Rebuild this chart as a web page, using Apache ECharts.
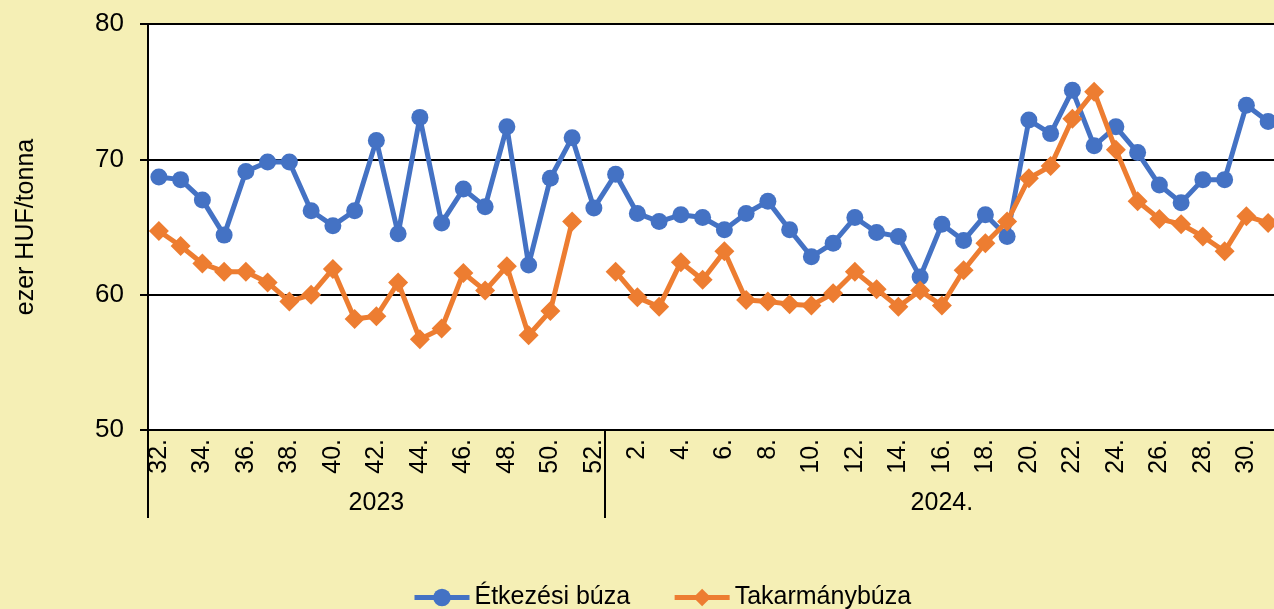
<!DOCTYPE html>
<html>
<head>
<meta charset="utf-8">
<script src="https://cdn.jsdelivr.net/npm/echarts@6/dist/echarts.min.js"></script>
<style>html,body{margin:0;padding:0;background:#F5EFB5;}#c{width:1274px;height:609px;}</style>
</head>
<body>
<div id="c"></div>
<script>
const weeks = ['32.','33.','34.','35.','36.','37.','38.','39.','40.','41.','42.','43.','44.','45.','46.','47.','48.','49.','50.','51.','52.',
  '1.','2.','3.','4.','5.','6.','7.','8.','9.','10.','11.','12.','13.','14.','15.','16.','17.','18.','19.','20.','21.','22.','23.','24.','25.','26.','27.','28.','29.','30.','31.'];
const years = ['2023', '2024.'];
const yearStartIndex = [0, 21];
const yearLabelIndex = [10, 36];
const etkezesi = [68.7,68.5,67.0,64.4,69.1,69.8,69.8,66.2,65.1,66.2,71.4,64.5,73.1,65.3,67.8,66.5,72.4,62.2,68.6,71.6,66.4,
  68.9,66.0,65.4,65.9,65.7,64.8,66.0,66.9,64.8,62.8,63.8,65.7,64.6,64.3,61.3,65.2,64.0,65.9,64.3,72.9,71.9,75.1,71.0,72.4,70.5,68.1,66.8,68.5,68.5,74.0,72.8];
const takarmany = [64.7,63.6,62.3,61.7,61.7,60.9,59.5,60.0,61.9,58.2,58.4,60.9,56.7,57.5,61.6,60.3,62.1,57.0,58.8,65.4,null,
  61.7,59.8,59.1,62.4,61.1,63.2,59.6,59.5,59.3,59.2,60.1,61.7,60.4,59.1,60.3,59.2,61.8,63.8,65.4,68.6,69.5,73.0,75.0,70.7,66.9,65.6,65.2,64.3,63.2,65.8,65.3];
const seriesNames = ['Étkezési búza', 'Takarmánybúza'];

const font = "'Liberation Sans', Arial, sans-serif";
const chart = echarts.init(document.getElementById('c'), null, {renderer: 'canvas'});
chart.setOption({
  backgroundColor: '#F5EFB5',
  animation: false,
  textStyle: {fontFamily: font, color: '#000'},
  grid: {left: 148, top: 24, bottom: 179, width: 1131, outerBoundsMode: 'none', containLabel: false,
    show: true, backgroundColor: '#fff', borderWidth: 0},
  legend: {
    data: seriesNames, left: 407, top: 580, itemWidth: 55, itemHeight: 22, itemGap: 42,
    lineStyle: {width: 5},
    textStyle: {fontSize: 25, fontFamily: font, color: '#000'}
  },
  xAxis: [
    {
      type: 'category', data: weeks, position: 'bottom', boundaryGap: true,
      axisLine: {show: true, lineStyle: {color: '#000', width: 2}},
      axisTick: {show: false},
      axisLabel: {interval: 1, rotate: 90, margin: 9, fontSize: 25, fontFamily: font, color: '#000'}
    },
    {
      type: 'category', data: weeks, position: 'bottom', boundaryGap: true,
      axisLine: {show: false},
      axisTick: {show: true, length: 88, interval: (i) => yearStartIndex.includes(i), lineStyle: {color: '#000', width: 2}},
      axisLabel: {interval: 0, margin: 61, fontSize: 25, fontFamily: font, color: '#000',
        formatter: (v, i) => { const k = yearLabelIndex.indexOf(i); return k >= 0 ? years[k] : ''; }}
    }
  ],
  yAxis: {
    type: 'value', min: 50, max: 80, interval: 10,
    name: 'ezer HUF/tonna', nameLocation: 'middle', nameGap: 109, nameRotate: 90,
    nameTextStyle: {fontSize: 25, fontFamily: font, color: '#000'},
    axisLine: {show: true, lineStyle: {color: '#000', width: 2}},
    axisTick: {show: true, length: 8, lineStyle: {color: '#000', width: 2}},
    axisLabel: {margin: 24, fontSize: 26, fontFamily: font, color: '#000'},
    splitLine: {show: true, lineStyle: {color: '#000', width: 2}}
  },
  series: [
    {name: seriesNames[0], type: 'line', data: etkezesi, symbol: 'circle', symbolSize: 17, showAllSymbol: true,
     itemStyle: {color: '#4472C4'}, lineStyle: {color: '#4472C4', width: 5}, z: 3},
    {name: seriesNames[1], type: 'line', data: takarmany, symbol: 'diamond', symbolSize: 20, showAllSymbol: true, connectNulls: false,
     itemStyle: {color: '#ED7D31'}, lineStyle: {color: '#ED7D31', width: 5}, z: 4}
  ]
});
</script>
</body>
</html>
